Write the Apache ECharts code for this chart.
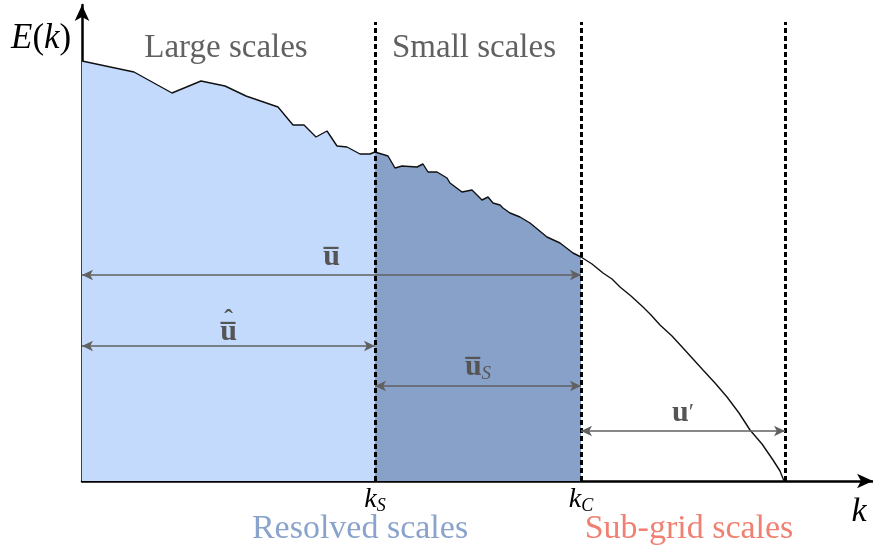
<!DOCTYPE html>
<html>
<head>
<meta charset="utf-8">
<script src="https://cdn.jsdelivr.net/npm/echarts@6/dist/echarts.min.js"></script>
<style>html,body{margin:0;padding:0;background:#fff}#c{width:873px;height:552px}</style>
</head>
<body>
<div id="c"></div>
<script>
// wavenumber k (arbitrary units) and energy E(k) (arbitrary units)
var kValues = [0, 52, 90, 119, 143, 164, 196, 211, 222, 234, 245, 255, 265, 278, 288, 293,
  306, 313, 320, 335, 341, 346, 355, 365, 368, 380, 390, 400, 406, 411, 418, 421, 428, 438, 448, 465, 478, 491, 499,
  510, 521, 530, 538, 549, 561, 569, 578, 590, 601, 611, 621, 633, 645, 657, 668, 680, 691, 698, 702];
var eValues = [420, 409, 388, 400, 395, 385, 374, 356, 356, 344, 350, 335, 334, 327, 327, 329,
  325, 313, 315, 314, 317, 309, 309, 303, 298, 289, 291, 281, 284, 278, 276, 273, 268, 264, 258, 244, 238, 228, 224,
  217, 208, 202, 194, 185, 174, 166, 156, 145, 133, 122, 111, 98, 84, 68, 51, 37, 21, 10, 0];
var kS = 293, kC = 499, kMax = 703;
var tickValues = [kS, kC];
var tickNames = ['S', 'C'];
var arrowRows = [
  {name: 'ubar', e: 206, from: 0, to: kC},
  {name: 'uhat', e: 135, from: 0, to: kS},
  {name: 'ubarS', e: 95, from: kS, to: kC},
  {name: 'uprime', e: 50, from: kC, to: kMax}
];
var dashTop = 459;

var allPts = kValues.map(function (k, i) { return [k, eValues[i]]; });
var lightPts = allPts.filter(function (p) { return p[0] <= kS; });
var darkPts = allPts.filter(function (p) { return p[0] >= kS && p[0] <= kC; });

var SERIF = '"Liberation Serif", "DejaVu Serif", serif';
var GRAY = '#616161';

var labelFmt = {
  ubar: '{b|u\u0305}',
  uhat: '{h|\u02C6}\n{c|u\u0305}',
  ubarS: '{b|u\u0305}{s|S}',
  uprime: '{b|u}{p|\u2032}'
};
var labelRich = {
  b: {fontFamily: SERIF, fontWeight: 'bold', fontSize: 30, color: '#555', lineHeight: 30},
  c: {fontFamily: SERIF, fontWeight: 'bold', fontSize: 30, color: '#555', lineHeight: 22},
  h: {fontFamily: SERIF, fontWeight: 'bold', fontSize: 26, color: '#555', lineHeight: 1},
  s: {fontFamily: SERIF, fontStyle: 'italic', fontSize: 19, color: '#555', padding: [13, 0, 0, 0]},
  p: {fontFamily: SERIF, fontSize: 24, color: '#555'}
};

var chart = echarts.init(document.getElementById('c'));
chart.setOption({
  animation: false,
  grid: {left: 82, right: 0, top: 5, bottom: 71},
  xAxis: {
    type: 'value', min: 0, max: 791,
    splitLine: {show: false},
    axisTick: {show: false},
    axisLine: {lineStyle: {color: '#000', width: 2.5}, symbol: ['none', 'arrow'], symbolSize: [11, 16]},
    axisLabel: {
      customValues: tickValues,
      margin: 3,
      formatter: function (v) { return '{k|k}{s|' + tickNames[tickValues.indexOf(v)] + '}'; },
      rich: {
        k: {fontFamily: SERIF, fontStyle: 'italic', fontSize: 28, color: '#000'},
        s: {fontFamily: SERIF, fontStyle: 'italic', fontSize: 18, color: '#000', padding: [13, 0, 0, 0]}
      }
    }
  },
  yAxis: {
    type: 'value', min: 0, max: 476,
    splitLine: {show: false},
    axisTick: {show: false},
    axisLabel: {show: false},
    axisLine: {show: true, lineStyle: {color: '#000', width: 2.5}, symbol: ['none', 'arrow'], symbolSize: [11, 16]}
  },
  series: [
    {type: 'line', data: lightPts, symbol: 'none', lineStyle: {width: 0}, areaStyle: {color: '#c3dafc', opacity: 1}, z: 1},
    {type: 'line', data: darkPts, symbol: 'none', lineStyle: {width: 0}, areaStyle: {color: '#88a1c9', opacity: 1}, z: 1},
    {
      type: 'line', data: allPts, symbol: 'none', lineStyle: {color: '#111', width: 1.4}, z: 3,
      markLine: {
        silent: true, symbol: ['none', 'none'], z: 4,
        lineStyle: {color: '#000', width: 3, type: [5, 3]},
        label: {show: false},
        data: [kS, kC, kMax].map(function (k) { return [{coord: [k, 0]}, {coord: [k, dashTop]}]; })
      }
    },
    {
      type: 'line', data: [], z: 5,
      markLine: {
        silent: true, symbol: ['arrow', 'arrow'], symbolSize: [8, 11],
        lineStyle: {color: GRAY, width: 1.5, type: 'solid'},
        label: {
          show: true, position: 'insideMiddleTop', distance: 3,
          formatter: function (p) { return labelFmt[p.name]; },
          rich: labelRich
        },
        data: arrowRows.map(function (r) {
          return [{name: r.name, coord: [r.from, r.e]}, {coord: [r.to, r.e]}];
        })
      }
    }
  ],
  graphic: [
    {type: 'text', left: 11, top: 21, style: {text: '{i|E}{n|(}{i|k}{n|)}', rich: {
      i: {fontFamily: SERIF, fontStyle: 'italic', fontSize: 35, fill: '#000'},
      n: {fontFamily: SERIF, fontSize: 35, fill: '#000'}}}},
    {type: 'text', x: 226, y: 48, style: {text: 'Large scales', fontFamily: SERIF, fontSize: 33, fill: GRAY, align: 'center', verticalAlign: 'middle'}},
    {type: 'text', x: 474, y: 48, style: {text: 'Small scales', fontFamily: SERIF, fontSize: 33, fill: GRAY, align: 'center', verticalAlign: 'middle'}},
    {type: 'text', x: 360, y: 529, style: {text: 'Resolved scales', fontFamily: SERIF, fontSize: 34, fill: '#8aa3cc', align: 'center', verticalAlign: 'middle'}},
    {type: 'text', x: 689, y: 529, style: {text: 'Sub-grid scales', fontFamily: SERIF, fontSize: 34, fill: '#ef8072', align: 'center', verticalAlign: 'middle'}},
    {type: 'text', x: 859, y: 512, style: {text: 'k', fontFamily: SERIF, fontStyle: 'italic', fontSize: 34, fill: '#000', align: 'center', verticalAlign: 'middle'}}
  ]
});
</script>
</body>
</html>
